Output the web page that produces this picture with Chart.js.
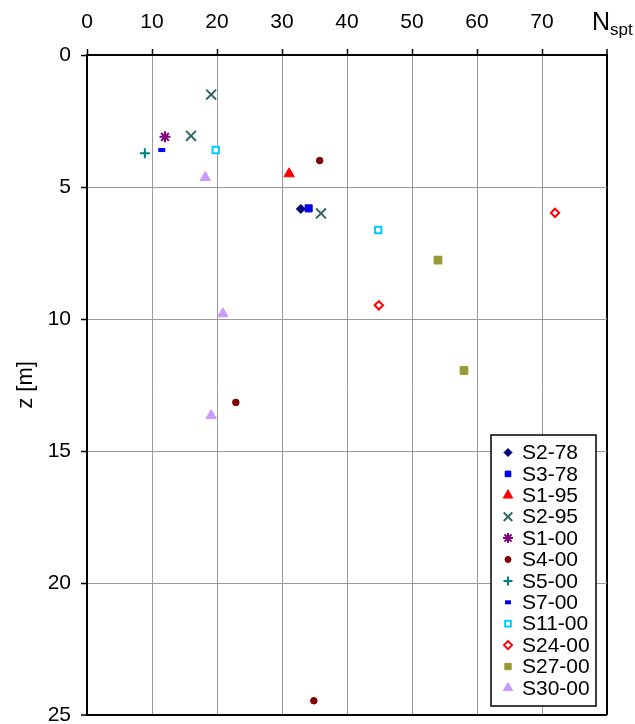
<!DOCTYPE html>
<html><head><meta charset="utf-8">
<script src="https://cdn.jsdelivr.net/npm/chart.js@4/dist/chart.umd.min.js"></script>
<style>html,body{margin:0;padding:0;background:#fff}#wrap{width:635px;height:724px;position:relative}</style>
</head><body><div id="wrap"><canvas id="c" width="635" height="724"></canvas></div>
<script>
// ---- data: [N_spt, z (m)] ----
const seriesNames = ['S2-78','S3-78','S1-95','S2-95','S1-00','S4-00','S5-00','S7-00','S11-00','S24-00','S27-00','S30-00'];
const S2_78  = [[32.9, 5.83]];
const S3_78  = [[34.1, 5.81]];
const S1_95  = [[31.1, 4.5]];
const S2_95  = [[19.1, 1.5], [16.0, 3.06], [36.0, 6.0]];
const S1_00  = [[12.0, 3.1]];
const S4_00  = [[35.8, 4.0], [22.9, 13.16], [34.9, 24.46]];
const S5_00  = [[8.9, 3.72]];
const S7_00  = [[11.5, 3.6]];
const S11_00 = [[19.8, 3.6], [44.8, 6.63]];
const S24_00 = [[72.0, 5.98], [44.9, 9.48]];
const S27_00 = [[54.0, 7.77], [58.0, 11.95]];
const S30_00 = [[18.2, 4.64], [20.9, 9.8], [19.1, 13.66]];
const nTicks = [0, 10, 20, 30, 40, 50, 60, 70, 80];
const nTickLabels = ['0', '10', '20', '30', '40', '50', '60', '70', ''];
const zTicks = [0, 5, 10, 15, 20, 25];

const seriesData = [S2_78, S3_78, S1_95, S2_95, S1_00, S4_00, S5_00, S7_00, S11_00, S24_00, S27_00, S30_00];

// ---- styles ----
const styles = [
  {ps:'rectRot',   fill:'#000080', stroke:'#000080', r:4.5, bw:1, lr:4},
  {ps:'rect',      fill:'#0000FF', stroke:'#0000CC', r:5,   bw:1, lr:4},
  {ps:'triangle',  fill:'#FF0000', stroke:'#FF0000', r:6,   bw:1, lr:5.5},
  {ps:'crossRot',  fill:'#336666', stroke:'#336666', r:7,   bw:2, lr:6},
  {ps:'star',      fill:'#800080', stroke:'#800080', r:5.5, bw:2, lr:5},
  {ps:'circle',    fill:'#800000', stroke:'#800000', r:3.3, bw:1, lr:3},
  {ps:'cross',     fill:'#008080', stroke:'#008080', r:5,   bw:2, lr:4.5},
  {ps:'line',      fill:'#0000FF', stroke:'#0000FF', r:3.5, bw:4, lr:3},
  {ps:'rect',      fill:'#FFFFFF', stroke:'#00CCFF', r:4.5, bw:2, lr:4},
  {ps:'rectRot',   fill:'#FFFFFF', stroke:'#FF0000', r:4.2, bw:2, lr:4},
  {ps:'rect',      fill:'#999933', stroke:'#999933', r:5.5, bw:1, lr:4.5},
  {ps:'triangle',  fill:'#CC99FF', stroke:'#CC99FF', r:6,   bw:1, lr:5.5}
];

const FONT = "'Liberation Sans', Arial, sans-serif";
Chart.defaults.font.family = FONT;
Chart.defaults.color = '#000';

const datasets = seriesNames.map((name, i) => ({
  label: name,
  data: seriesData[i].map(p => ({x: p[0], y: p[1]})),
  showLine: false,
  pointStyle: styles[i].ps,
  pointRadius: styles[i].r,
  pointHoverRadius: styles[i].r,
  pointBorderWidth: styles[i].bw,
  backgroundColor: styles[i].fill,
  borderColor: styles[i].stroke
}));

function drawMarker(ctx, st, x, y, r) {
  ctx.save();
  ctx.fillStyle = st.fill;
  ctx.strokeStyle = st.stroke;
  ctx.lineWidth = st.bw;
  Chart.helpers.drawPoint(ctx, {pointStyle: st.ps, rotation: 0, radius: r, borderWidth: st.bw}, x, y);
  ctx.restore();
}

const boxLegend = {
  id: 'boxLegend',
  afterDraw(chart) {
    const ctx = chart.ctx, a = chart.chartArea;
    const right = a.right - 11, bottom = a.bottom - 9;
    const w = 105, h = 271;
    const left = right - w, top = bottom - h;
    ctx.save();
    ctx.fillStyle = '#fff';
    ctx.fillRect(left, top, w, h);
    ctx.strokeStyle = '#000';
    ctx.lineWidth = 1.5;
    ctx.strokeRect(left, top, w, h);
    ctx.font = '21px ' + FONT;
    ctx.textBaseline = 'middle';
    ctx.textAlign = 'left';
    seriesNames.forEach((name, i) => {
      const yy = top + 17.5 + i * 21.4;
      drawMarker(ctx, styles[i], left + 17, yy, styles[i].lr);
      ctx.fillStyle = '#000';
      ctx.fillText(name, left + 31, yy + 1);
    });
    ctx.restore();
  }
};

const nsptTitle = {
  id: 'nsptTitle',
  afterDraw(chart) {
    const ctx = chart.ctx;
    ctx.save();
    ctx.fillStyle = '#000';
    ctx.textBaseline = 'alphabetic';
    ctx.textAlign = 'left';
    ctx.font = '25px ' + FONT;
    const x0 = 592;
    ctx.fillText('N', x0, 30);
    const wN = ctx.measureText('N').width;
    ctx.font = '17px ' + FONT;
    ctx.fillText('spt', x0 + wN, 35);
    ctx.restore();
  }
};

new Chart(document.getElementById('c'), {
  type: 'scatter',
  data: { datasets },
  options: {
    responsive: false,
    animation: false,
    events: [],
    layout: { padding: { left: 0, right: 28, top: 0, bottom: 9 } },
    plugins: { legend: { display: false }, tooltip: { enabled: false } },
    scales: {
      x: {
        type: 'linear', position: 'top', min: 0, max: 80,
        afterBuildTicks: s => { s.ticks = nTicks.map(v => ({value: v})); },
        afterFit: s => { s.height = 55; s.paddingLeft = 0; s.paddingRight = 0; },
        ticks: {
          font: { size: 21 }, color: '#000', padding: 14, maxRotation: 0, autoSkip: false,
          callback: (v) => { const k = nTicks.indexOf(v); return k >= 0 ? nTickLabels[k] : ''; }
        },
        grid: {
          color: c => (c.tick && c.tick.value === 80) ? '#000' : '#999',
          lineWidth: c => (c.tick && c.tick.value === 80) ? 2 : 1,
          tickColor: '#000', tickLength: 6, tickWidth: 1.5
        },
        border: { display: true, color: '#000', width: 2 }
      },
      y: {
        type: 'linear', position: 'left', reverse: true, min: 0, max: 25,
        afterBuildTicks: s => { s.ticks = zTicks.map(v => ({value: v})); },
        afterFit: s => { s.width = 87; s.paddingTop = 0; s.paddingBottom = 0; },
        ticks: { font: { size: 21 }, color: '#000', padding: 10, autoSkip: false },
        title: { display: true, text: 'z [m]', font: { size: 22 }, color: '#000', padding: { top: 13, bottom: 0 } },
        grid: {
          color: c => (c.tick && c.tick.value === 25) ? '#000' : '#999',
          lineWidth: c => (c.tick && c.tick.value === 25) ? 2 : 1,
          tickColor: '#000', tickLength: 6, tickWidth: 1.5
        },
        border: { display: true, color: '#000', width: 2 }
      }
    }
  },
  plugins: [boxLegend, nsptTitle]
});
</script>
</body></html>
